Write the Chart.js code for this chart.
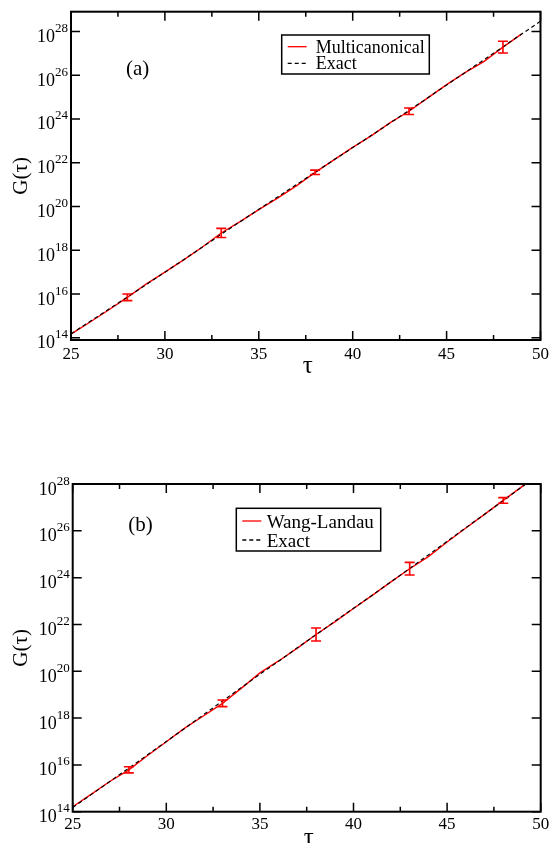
<!DOCTYPE html>
<html>
<head>
<meta charset="utf-8">
<script src="https://cdn.jsdelivr.net/npm/chart.js@4/dist/chart.umd.min.js"></script>
<style>
  html, body { margin: 0; padding: 0; background: #fff; }
  #wrap { position: relative; width: 550px; height: 843px; overflow: hidden; }
  canvas { position: absolute; left: 0; }
</style>
</head>
<body>
<div id="wrap">
  <canvas id="panelA" width="550" height="421" style="top:0px"></canvas>
  <canvas id="panelB" width="550" height="422" style="top:421px"></canvas>
</div>
<script>
// Walk length tau and log10 of G(tau)
const tau = [25, 26, 27, 28, 29, 30, 31, 32, 33, 34, 35, 36, 37, 38, 39, 40, 41, 42, 43, 44, 45, 46, 47, 48, 49, 50];
const exactLog10 = [14.18, 14.74, 15.30, 15.86, 16.43, 17.00, 17.57, 18.15, 18.73, 19.30, 19.87, 20.43, 21.00,
                    21.56, 22.13, 22.69, 23.25, 23.82, 24.39, 24.97, 25.55, 26.13, 26.71, 27.29, 27.88, 28.46];
const multicanonicalLog10 = [14.17, 14.71, 15.27, 15.85, 16.45, 17.00, 17.56, 18.15, 18.79, 19.31, 19.86, 20.38, 20.94,
                             21.56, 22.13, 22.70, 23.24, 23.83, 24.35, 24.96, 25.57, 26.13, 26.63, 27.28, 27.89];
const wangLandauLog10 = [14.21, 14.75, 15.30, 15.79, 16.40, 16.99, 17.58, 18.10, 18.63, 19.27, 19.93, 20.44, 20.99,
                         21.57, 22.11, 22.68, 23.24, 23.82, 24.38, 24.90, 25.52, 26.12, 26.70, 27.30, 27.89, 28.47];

// Error bars (half-width in decades) at selected tau
const errTau = [28, 33, 38, 43, 48];
const multicanonicalErr = [0.15, 0.21, 0.10, 0.15, 0.27];
const wangLandauErr = [0.13, 0.14, 0.28, 0.27, 0.12];

// Axis ticks
const xMajorTicks = [25, 30, 35, 40, 45, 50];
const xMinorTicks = [27.5, 32.5, 37.5, 42.5, 47.5];
const yTickExponents = [14, 16, 18, 20, 22, 24, 26, 28];

const SERIF = "'Liberation Serif', 'Times New Roman', serif";

function toPoints(logs) {
  return logs.map((v, i) => ({ x: tau[i], y: Math.pow(10, v) }));
}

// Frame, inward ticks, labels, error bars and the boxed legend
const panelDecor = {
  id: 'panelDecor',
  afterDatasetsDraw(chart, args, o) {
    const ctx = chart.ctx, xs = chart.scales.x, ys = chart.scales.y;
    const ds = chart.data.datasets[0];
    const logs = ds.logValues;
    ctx.save();
    ctx.strokeStyle = '#ff0000';
    ctx.lineWidth = 1.6;
    errTau.forEach((t, i) => {
      const c = logs[tau.indexOf(t)];
      const e = o.errors[i];
      const px = xs.getPixelForValue(t);
      const pTop = ys.getPixelForValue(Math.pow(10, c + e));
      const pBot = ys.getPixelForValue(Math.pow(10, c - e));
      ctx.beginPath();
      ctx.moveTo(px, pTop); ctx.lineTo(px, pBot);
      ctx.moveTo(px - 5, pTop); ctx.lineTo(px + 5, pTop);
      ctx.moveTo(px - 5, pBot); ctx.lineTo(px + 5, pBot);
      ctx.stroke();
    });
    ctx.restore();
  },
  afterDraw(chart, args, o) {
    const ctx = chart.ctx, ca = chart.chartArea;
    const xs = chart.scales.x, ys = chart.scales.y;
    ctx.save();
    ctx.strokeStyle = '#000';
    ctx.fillStyle = '#000';

    // frame
    ctx.lineWidth = 2;
    ctx.strokeRect(ca.left, ca.top, ca.right - ca.left, ca.bottom - ca.top);

    // ticks on all four sides, pointing inward
    ctx.lineWidth = 1.5;
    ctx.beginPath();
    const xTick = (v, len) => {
      const px = xs.getPixelForValue(v);
      ctx.moveTo(px, ca.bottom); ctx.lineTo(px, ca.bottom - len);
      ctx.moveTo(px, ca.top); ctx.lineTo(px, ca.top + len);
    };
    xMajorTicks.forEach(v => xTick(v, 9));
    xMinorTicks.forEach(v => xTick(v, 5));
    yTickExponents.forEach(e => {
      const py = ys.getPixelForValue(Math.pow(10, e));
      ctx.moveTo(ca.left, py); ctx.lineTo(ca.left + 9, py);
      ctx.moveTo(ca.right, py); ctx.lineTo(ca.right - 9, py);
    });
    ctx.stroke();

    // x tick labels
    ctx.font = '17px ' + SERIF;
    ctx.textAlign = 'center';
    ctx.textBaseline = 'alphabetic';
    xMajorTicks.forEach(v => {
      ctx.fillText(String(v), xs.getPixelForValue(v), ca.bottom + o.xLabelOffset);
    });

    // y tick labels as 10 with a raised exponent
    yTickExponents.forEach(e => {
      const py = ys.getPixelForValue(Math.pow(10, e));
      ctx.font = '13px ' + SERIF;
      const sup = String(e);
      const supW = ctx.measureText(sup).width;
      const right = ca.left - 3;
      ctx.textAlign = 'left';
      ctx.fillText(sup, right - supW, py + 0.5);
      ctx.font = '18px ' + SERIF;
      ctx.textAlign = 'right';
      ctx.fillText('10', right - supW, py + 10.5);
    });

    // axis titles
    ctx.font = '25px ' + SERIF;
    ctx.textAlign = 'center';
    ctx.fillText('\u03C4', (ca.left + ca.right) / 2 + 2, o.xTitleY);
    ctx.save();
    ctx.translate(21, (ca.top + ca.bottom) / 2);
    ctx.rotate(-Math.PI / 2);
    ctx.font = '21px ' + SERIF;
    ctx.textBaseline = 'middle';
    ctx.fillText('G(\u03C4)', 0, 0);
    ctx.restore();

    // panel tag
    ctx.font = '21px ' + SERIF;
    ctx.textAlign = 'left';
    ctx.fillText(o.tag, o.tagX, o.tagY);

    // legend box
    const L = o.legend;
    ctx.fillStyle = '#fff';
    ctx.fillRect(L.x, L.y, L.w, L.h);
    ctx.lineWidth = 1.5;
    ctx.strokeStyle = '#000';
    ctx.strokeRect(L.x, L.y, L.w, L.h);
    ctx.font = L.font + 'px ' + SERIF;
    ctx.fillStyle = '#000';
    chart.data.datasets.forEach((d, i) => {
      const ly = L.rowY[i];
      ctx.save();
      ctx.strokeStyle = d.borderColor;
      ctx.lineWidth = 1.3;
      ctx.setLineDash(d.borderDash || []);
      ctx.beginPath();
      ctx.moveTo(L.x + 6, ly); ctx.lineTo(L.x + 25, ly);
      ctx.stroke();
      ctx.restore();
      ctx.fillText(d.label, L.x + L.textDx, ly + L.baseDy);
    });
    ctx.restore();
  }
};

function makePanel(canvasId, redLabel, redLogs, errors, yMinExp, yMaxExp, padding, decor) {
  return new Chart(document.getElementById(canvasId), {
    type: 'line',
    data: {
      datasets: [
        {
          label: redLabel,
          data: toPoints(redLogs),
          logValues: redLogs,
          borderColor: '#ff0000',
          borderWidth: 1.4,
          pointRadius: 0,
          fill: false,
          order: 1
        },
        {
          label: 'Exact',
          data: toPoints(exactLog10),
          borderColor: '#000000',
          borderWidth: 1.2,
          borderDash: [4, 3],
          pointRadius: 0,
          fill: false,
          order: 0
        }
      ]
    },
    options: {
      responsive: false,
      animation: false,
      layout: { padding: padding },
      scales: {
        x: { type: 'linear', min: 25, max: 50, display: false },
        y: { type: 'logarithmic', min: Math.pow(10, yMinExp), max: Math.pow(10, yMaxExp), display: false }
      },
      plugins: {
        legend: { display: false },
        tooltip: { enabled: false },
        panelDecor: Object.assign({ errors: errors }, decor)
      }
    },
    plugins: [panelDecor]
  });
}

makePanel('panelA', 'Multicanonical', multicanonicalLog10, multicanonicalErr, 13.9, 28.9,
  { left: 71, right: 9.5, top: 11.7, bottom: 81 },
  {
    xLabelOffset: 18.5, xTitleY: 373, tag: '(a)', tagX: 126, tagY: 75,
    legend: { x: 281.7, y: 35, w: 147.6, h: 39, font: 18, rowY: [46.7, 63.3], textDx: 34, baseDy: 6 }
  });

makePanel('panelB', 'Wang-Landau', wangLandauLog10, wangLandauErr, 14, 28,
  { left: 72.7, right: 9.3, top: 63, bottom: 31.3 },
  {
    xLabelOffset: 16.8, xTitleY: 424, tag: '(b)', tagX: 128.3, tagY: 110,
    legend: { x: 236.3, y: 87.3, w: 144.4, h: 42.7, font: 19, rowY: [100, 119], textDx: 30.4, baseDy: 6.5 }
  });
</script>
</body>
</html>
